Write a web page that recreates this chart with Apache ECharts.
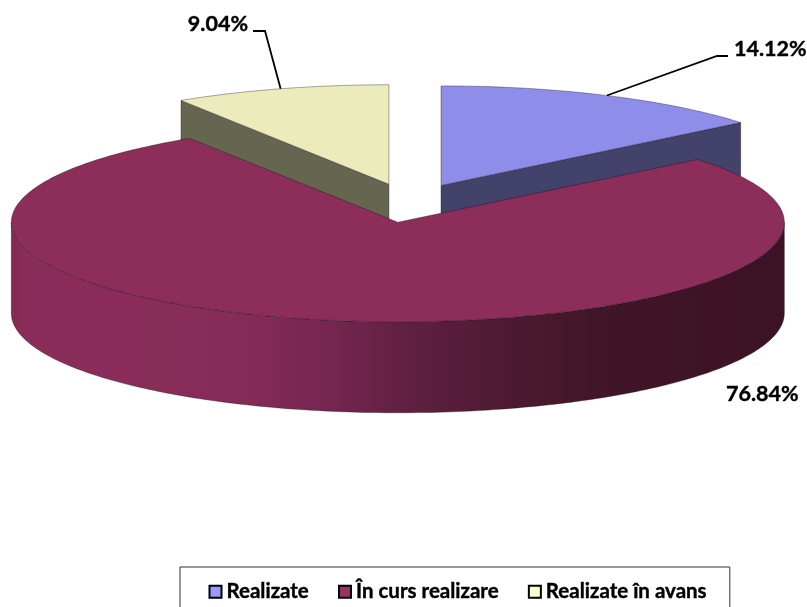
<!DOCTYPE html>
<html><head><meta charset="utf-8">
<style>html,body{margin:0;padding:0;background:#fff}#c{width:807px;height:607px}</style>
<script src="https://cdn.jsdelivr.net/npm/echarts@6/dist/echarts.min.js"></script>
</head><body><div id="c"></div>
<script>
const categories = ['Realizate', 'În curs realizare', 'Realizate în avans'];
const values = [14.12, 76.84, 9.04];
const legendColors = ['#9999ff', '#993366', '#ffffcc'];
const topColors = ['#8e8eea', '#8c2d5a', '#ebebbc'];
const sideColors = ['#42426b', '#8c2d5a', '#666650'];

const FONT = 'Lato';
const cx = 409.5, cy = 203, rx = 386.5, ry = 99.5, depth = 91, explodeX = 0.19, explodeY = 0.196;
const total = values.reduce((a, b) => a + b, 0);
const starts = values.map((_, i) => values.slice(0, i).reduce((a, b) => a + b, 0) / total * 360);

function pt(o, deg, w, h) {
  const a = deg * Math.PI / 180;
  return [o[0] + (w == null ? rx : w) * Math.sin(a), o[1] - (h == null ? ry : h) * Math.cos(a)];
}
function arc(o, a0, a1) {
  const n = Math.max(2, Math.ceil(Math.abs(a1 - a0) / 1)), out = [];
  for (let k = 0; k <= n; k++) out.push(pt(o, a0 + (a1 - a0) * k / n));
  return out;
}
const down = (p) => [p[0], p[1] + depth];
const labels = [
  { leader: [[717, 56], [728, 56]], pos: [734, 49.5], align: 'left' },
  { leader: null, pos: [726, 394.5], align: 'left' },
  { leader: [[265, 31], [253, 31]], pos: [248, 24], align: 'right' }
];

function renderSlice(params, api) {
  const i = categories.indexOf(params.seriesName);
  const v = api.value(0);
  const a0 = starts[i], sweep = v / total * 360, a1 = a0 + sweep, mid = a0 + sweep / 2;
  const apex = pt([cx, cy], mid, explodeX * rx, explodeY * ry);
  const children = [];
  const edge = { stroke: 'rgba(20,10,20,0.5)', lineWidth: 0.7 };

  // visible side faces
  if (i === 1) {
    const front = arc(apex, Math.max(a0, 90), Math.min(a1, 270));
    const poly = front.concat(front.slice().reverse().map(down));
    children.push({
      type: 'polygon', shape: { points: poly },
      style: Object.assign({
        fill: new echarts.graphic.LinearGradient(0, 0, 1, 0, [
          { offset: 0, color: '#80294f' }, { offset: 0.02, color: '#8b2d5a' },
          { offset: 0.28, color: '#872c58' }, { offset: 0.4, color: '#772750' },
          { offset: 0.52, color: '#5f1f40' }, { offset: 0.65, color: '#4c1a30' },
          { offset: 0.78, color: '#3f1527' }, { offset: 1, color: '#3c1325' }
        ])
      }, edge)
    });
  } else {
    const rim = pt(apex, i === 0 ? a1 : a0);
    children.push({
      type: 'polygon', shape: { points: [apex, rim, down(rim), down(apex)] },
      style: Object.assign({ fill: sideColors[i] }, edge)
    });
  }
  // top face
  children.push({
    type: 'polygon', shape: { points: [apex].concat(arc(apex, a0, a1)) },
    style: Object.assign({ fill: topColors[i] }, edge)
  });
  // leader line and label
  const lab = labels[i];
  if (lab.leader) {
    children.push({
      type: 'polyline', shape: { points: [pt(apex, mid)].concat(lab.leader) },
      style: { stroke: '#000', lineWidth: 1.8, fill: null }
    });
  }
  children.push({
    type: 'text',
    style: {
      x: lab.pos[0], y: lab.pos[1], text: v.toFixed(2) + '%', align: lab.align, verticalAlign: 'middle',
      fill: '#000', font: 'bold 21.5px ' + FONT, stroke: '#000', lineWidth: 0.4
    }
  });
  return { type: 'group', children };
}

const order = [2, 0, 1];
const chart = echarts.init(document.getElementById('c'), null, { renderer: 'canvas' });
chart.setOption({
  animation: false,
  backgroundColor: '#fff',
  legend: {
    left: 180, top: 567,
    padding: [14, 23, 40, 28.5],
    itemGap: 29, itemWidth: 12, itemHeight: 12,
    borderColor: '#333', borderWidth: 1,
    data: categories.map((c, i) => ({
      name: c, icon: 'rect',
      itemStyle: { color: legendColors[i], borderColor: '#000', borderWidth: 2 }
    })),
    textStyle: { fontFamily: FONT, fontWeight: 'bold', fontSize: 20.5, color: '#000', textBorderColor: '#000', textBorderWidth: 0.4 },
    selectedMode: false
  },
  series: order.map((i, z) => ({
    type: 'custom',
    name: categories[i],
    coordinateSystem: 'none',
    silent: true,
    z: 2 + z,
    itemStyle: { color: legendColors[i] },
    data: [{ name: categories[i], value: [values[i]] }],
    renderItem: renderSlice
  }))
});
</script></body></html>
